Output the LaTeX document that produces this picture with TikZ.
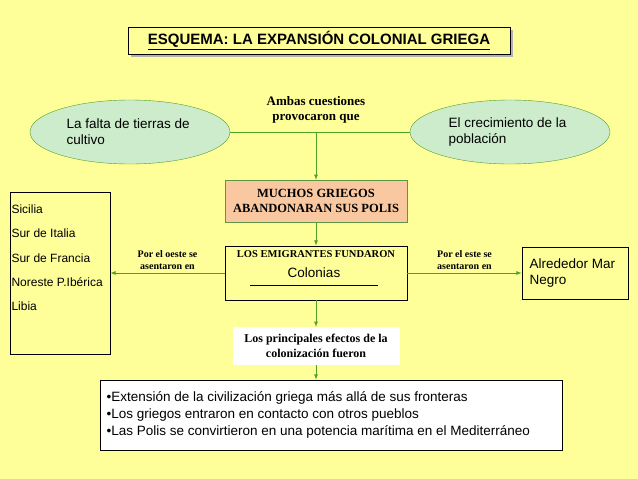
\documentclass[tikz,border=0pt]{standalone}
\usepackage{fontspec}
\setmainfont{Liberation Serif}
\setsansfont{Liberation Sans}
\usetikzlibrary{shapes.geometric,positioning}
\definecolor{bgyellow}{RGB}{255,255,153}
\definecolor{ovalgreen}{RGB}{204,236,204}
\definecolor{linegreen}{RGB}{80,160,40}
\definecolor{salmon}{RGB}{250,200,160}
\newcommand{\fsz}[1]{\fontsize{#1}{1.2\dimexpr #1pt\relax}\selectfont}
\tikzset{
  oval/.style={ellipse, draw=linegreen, fill=ovalgreen, minimum width=200pt, minimum height=64pt},
  frame/.style={draw=black, thick},
  flow/.style={draw=linegreen, thick, -latex},
  tag/.style={font=\rmfamily\bfseries\fsz{10}, align=center},
  plain/.style={font=\sffamily\fsz{13.5}, align=left},
}
\begin{document}
\begin{tikzpicture}[x=1pt,y=-1pt]
\fill[bgyellow] (0,0) rectangle (638,479);
\useasboundingbox (0,0) rectangle (638,479);

% Title
\fill[gray!60] (131,30) rectangle (513,57);
\node[frame, fill=bgyellow, minimum width=382pt, minimum height=27pt, font=\sffamily\bfseries\fsz{15}] (title) at (319,40.5)
  {\underline{ESQUEMA: LA EXPANSIÓN COLONIAL GRIEGA}};

% Causes
\node[oval] (falta) at (130,132) {};
\node[plain, anchor=west] (faltatxt) at (63,132) {La falta de tierras de\\cultivo};
\node[oval] (crec) at (510,132) {};
\node[plain, anchor=west] (crectxt) at (445,132) {El crecimiento de la\\población};
\node[tag, font=\rmfamily\bfseries\fsz{13}] (ambas) at (316,110) {Ambas cuestiones\\provocaron que};
\coordinate (mid) at (316,132);
\draw[linegreen, thick] (falta.east) -- (crec.west);

% Chain
\node[draw=linegreen!70!gray, fill=salmon, minimum width=182pt, minimum height=42pt, tag, font=\rmfamily\bfseries\fsz{12.5}] (muchos) at (316,201)
  {MUCHOS GRIEGOS\\ABANDONARAN SUS POLIS};
\node[frame, minimum width=182pt, minimum height=54pt] (emig) at (316,273) {};
\node[tag, font=\rmfamily\bfseries\fsz{10.5}, anchor=north] (emigtxt) at (316,247) {LOS EMIGRANTES FUNDARON};
\node[plain] (colonias) at (314,273) {Colonias};
\draw[black, thin] (250,285) -- (378,285);
\draw[flow] (mid) -- (muchos.north);
\draw[flow] (muchos.south) -- (emig.north);

% Places
\node[frame, minimum width=100pt, minimum height=162pt] (oeste) at (60,273) {};
\node[font=\sffamily\fsz{12}, align=left, anchor=north west] (oestetxt) at (8,201)
  {Sicilia\\[10pt]Sur de Italia\\[10pt]Sur de Francia\\[10pt]Noreste P.Ibérica\\[10pt]Libia};
\node[frame, minimum width=106pt, minimum height=52pt] (este) at (575,273) {};
\node[plain, anchor=west] (estetxt) at (526,273) {Alrededor Mar\\Negro};
\draw[flow] (emig.west) -- (oeste.east) node[midway, above, tag] {Por el oeste se\\asentaron en};
\draw[flow] (emig.east) -- (este.west) node[midway, above, tag] {Por el este se\\asentaron en};

% Effects
\node[fill=white, minimum width=167pt, minimum height=38pt, tag, font=\rmfamily\bfseries\fsz{12}] (efectos) at (316,346)
  {Los principales efectos de la\\colonización fueron};
\node[frame, fill=white, minimum width=462pt, minimum height=70pt] (result) at (331,415) {};
\node[plain, anchor=west] (resulttxt) at (103,415)
  {•Extensión de la civilización griega más allá de sus fronteras\\[1pt]
   •Los griegos entraron en contacto con otros pueblos\\[1pt]
   •Las Polis se convirtieron en una potencia marítima en el Mediterráneo};
\draw[flow] (emig.south) -- (efectos.north);
\draw[flow] (efectos.south) -- (efectos.south |- result.north);
\end{tikzpicture}
\end{document}
